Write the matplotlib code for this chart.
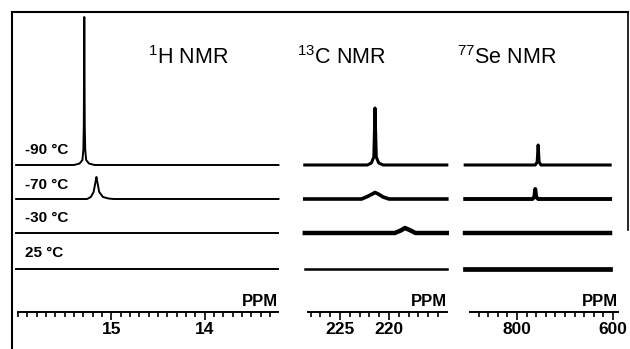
import matplotlib
matplotlib.use('Agg')
import matplotlib.pyplot as plt
from matplotlib.lines import Line2D

plt.rcParams['font.family'] = ['Liberation Sans', 'DejaVu Sans']

W, H = 630, 349

# temperatures, top to bottom
temps = ['-90 °C', '-70 °C', '-30 °C', '25 °C']

# spectra: (ppm, height in px above baseline)
h_ppm = [
    [16.02, 15.40, 15.34, 15.31, 15.30, 15.295, 15.29, 15.285, 15.28, 15.27, 15.24, 15.18, 13.21],
    [16.02, 15.26, 15.22, 15.19, 15.17, 15.16, 15.15, 15.13, 15.09, 15.03, 14.98, 13.21],
    [16.02, 13.21],
    [16.02, 13.21],
]
h_int = [
    [0, 0, 1.5, 5, 15, 40, 148, 40, 15, 5, 1.5, 0, 0],
    [0, 0, 2, 7, 17, 22, 17, 7, 2, 0.5, 0, 0],
    [0, 0],
    [0, 0],
]

c_ppm = [
    [228.6, 222.2, 221.8, 221.55, 221.43, 221.3, 221.05, 220.6, 214.1],
    [228.6, 222.8, 222.2, 221.7, 221.43, 221.1, 220.6, 220.0, 214.1],
    [228.6, 219.4, 218.8, 218.37, 217.9, 217.3, 214.1],
    [228.6, 214.1],
]
c_int = [
    [0, 0, 2, 8, 57, 8, 2, 0, 0],
    [0, 0, 2.5, 5, 6.5, 5, 2, 0, 0],
    [0, 0, 2.5, 5, 3, 0, 0],
    [0, 0],
]

se_ppm = [
    [908, 762, 758, 756, 754, 750, 606],
    [908, 768, 764, 762, 760, 756, 606],
    [908, 606],
    [908, 606],
]
se_int = [
    [0, 0, 3, 20, 3, 0, 0],
    [0, 0, 2, 10, 2, 0, 0],
    [0, 0],
    [0, 0],
]

h_ticks = [15, 14]
c_ticks = [225, 220]
se_ticks = [800, 600]

baselines = [165, 199, 233, 269]  # px rows
axis_row = 312

fig = plt.figure(figsize=(W / 100, H / 100), dpi=100)

def panel(x0, x1, xlim, ticks, minor, ppm_list, int_list, widths):
    ax = fig.add_axes([x0 / W, 0, (x1 - x0) / W, 1])
    ax.set_xlim(*xlim)
    ax.set_ylim(H, 0)
    ax.patch.set_visible(False)
    for s in ['top', 'left', 'right']:
        ax.spines[s].set_visible(False)
    ax.spines['bottom'].set_position(('data', axis_row))
    ax.spines['bottom'].set_linewidth(1.4)
    ax.set_yticks([])
    ax.set_xticks(ticks)
    ax.set_xticklabels([str(t) for t in ticks], fontweight='bold', fontsize=12.5)
    ax.set_xticks(minor, minor=True)
    ax.tick_params(axis='x', which='major', direction='out', length=6, width=1.2, pad=1)
    ax.tick_params(axis='x', which='minor', direction='out', length=3.5, width=1.2)
    for xs, ys, b, lw in zip(ppm_list, int_list, baselines, widths):
        ax.plot(xs, [b - y for y in ys], color='black', lw=lw, clip_on=False,
                solid_joinstyle='round')
    # x in axes fraction, y in data (px rows)
    ax.text(1.0, axis_row - 3, 'PPM', transform=ax.get_yaxis_transform(),
            ha='right', va='bottom', fontsize=12, fontweight='bold')
    return ax

def frange(a, b, step):
    out = []
    v = a
    while v <= b + 1e-9:
        out.append(round(v, 4))
        v += step
    return out

ax1 = panel(18, 278, (16.0, 13.215), h_ticks, frange(13.3, 16.0, 0.1),
            h_ppm, h_int, [1.4, 1.4, 1.4, 1.4])
ax2 = panel(308, 447, (228.27, 214.08), c_ticks, frange(215, 228, 1),
            c_ppm, c_int, [2.2, 2.6, 3.2, 1.8])
ax3 = panel(470, 618, (898, 589.6), se_ticks, frange(600, 880, 20),
            se_ppm, se_int, [2.2, 2.8, 3.2, 3.4])

# temperature labels
for t, y in zip(temps, [150, 185, 218, 253]):
    fig.text(25 / W, 1 - y / H, t, ha='left', va='center',
             fontsize=11, fontweight='bold')

# nucleus titles
titles = [(r'$\mathregular{^{1}}$H NMR', 148), (r'$\mathregular{^{13}}$C NMR', 297),
          (r'$\mathregular{^{77}}$Se NMR', 457)]
for t, x in titles:
    fig.text(x / W, 1 - 58 / H, t, ha='left', va='center', fontsize=15.5)

# frame
fig.add_artist(Line2D([12 / W, 628 / W], [1 - 12 / H, 1 - 12 / H], color='black', lw=1.5))
fig.add_artist(Line2D([12 / W, 12 / W], [1 - 12 / H, 0], color='black', lw=1.5))
fig.add_artist(Line2D([628 / W, 628 / W], [1 - 12 / H, 1 - 230 / H], color='black', lw=1.2))

fig.savefig('out.png', dpi=100)
